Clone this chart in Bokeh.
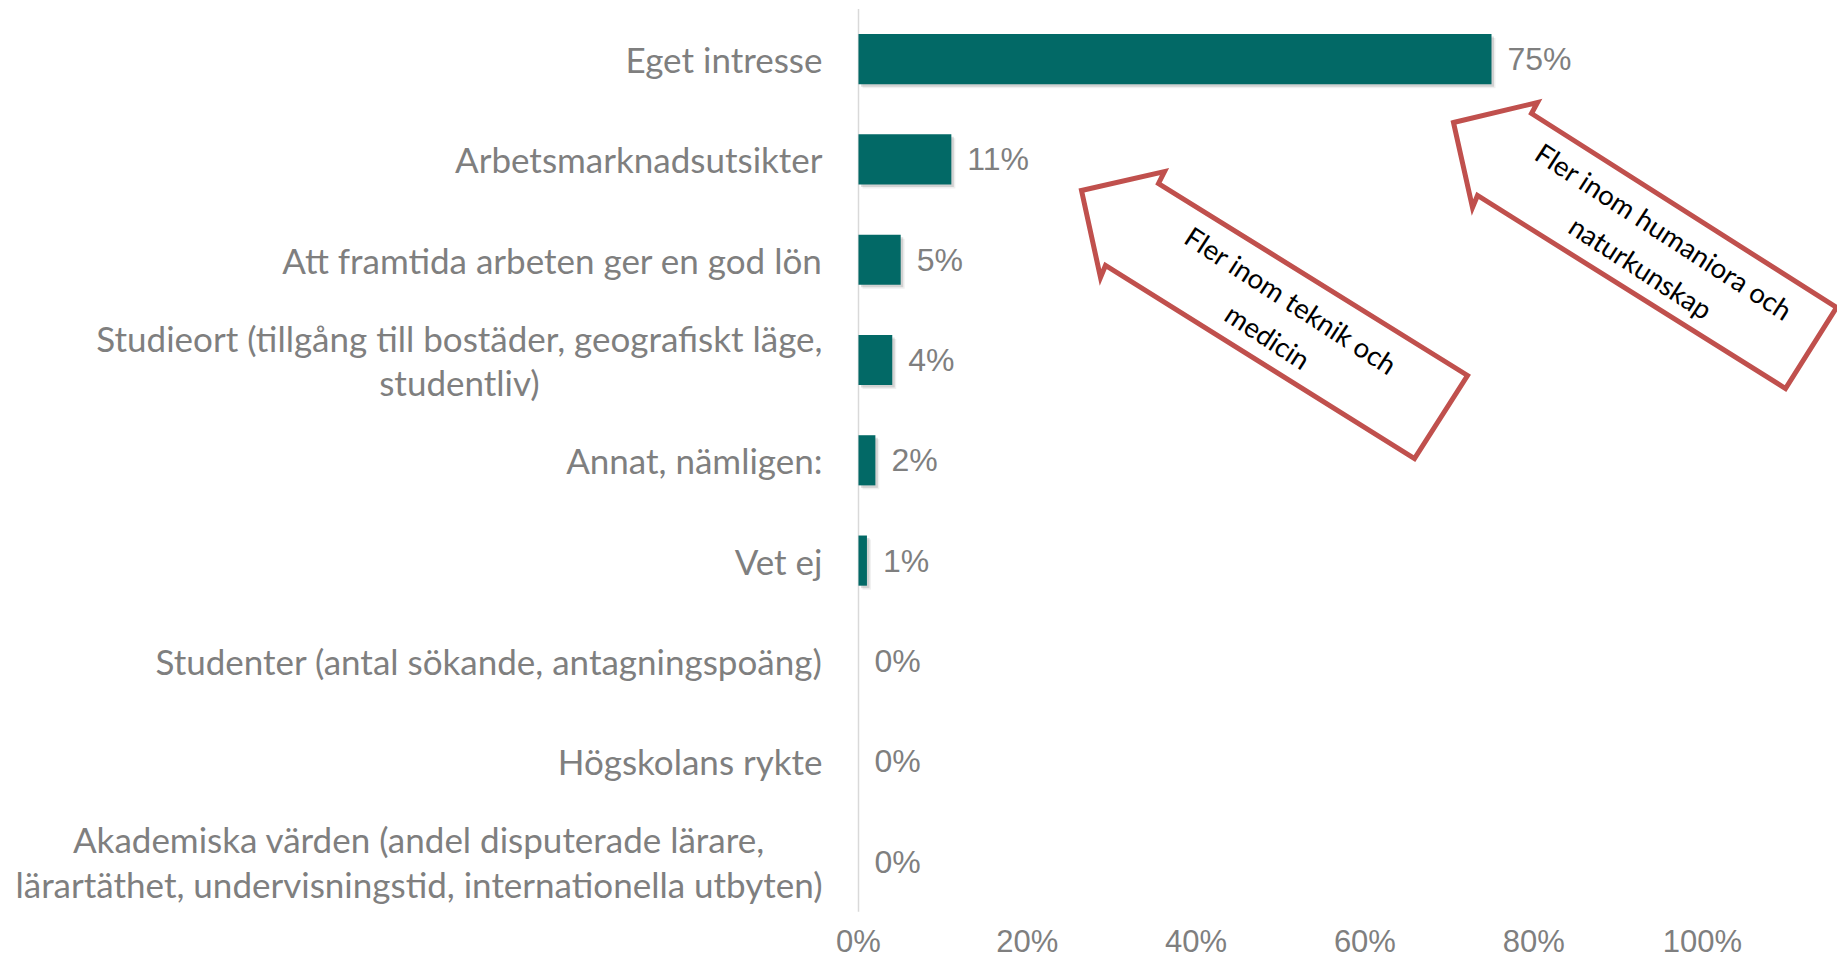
from bokeh.plotting import figure
from bokeh.models import Range1d
from bokeh.core.properties import value
from bokeh.embed import file_html
from bokeh.resources import INLINE

# ---------------- data ----------------
categories = [
    "Eget intresse",
    "Arbetsmarknadsutsikter",
    "Att framtida arbeten ger en god lön",
    "Studieort (tillgång till bostäder, geografiskt läge,\nstudentliv)",
    "Annat, nämligen:",
    "Vet ej",
    "Studenter (antal sökande, antagningspoäng)",
    "Högskolans rykte",
    "Akademiska värden (andel disputerade lärare,\nlärartäthet, undervisningstid, internationella utbyten)",
]
values = [75, 11, 5, 4, 2, 1, 0, 0, 0]
ticks = [0, 20, 40, 60, 80, 100]
tick_labels = ["0%", "20%", "40%", "60%", "80%", "100%"]
arrow_texts = ["Fler inom teknik och\nmedicin", "Fler inom humaniora och\nnaturkunskap"]

# ---------------- layout (canvas pixels) ----------------
W, H = 1837, 961
X0 = 858.0      # canvas x of 0 %
PXP = 8.44      # pixels per percent
Y0 = 58.6       # canvas y of first category centre
PXC = 100.3     # pixels per category
BAR_H = 0.5


def fx(px):
    return (px - X0) / PXP


def fy(py):
    return (py - Y0) / PXC


# annotation arrow outlines (canvas pixels)
arrow_left_px = [(1081, 190), (1164, 171), (1158, 183), (1467, 375),
                 (1414, 458), (1105, 265), (1100, 277)]
arrow_right_px = [(1453, 122), (1537, 102), (1531, 113), (1836, 307),
                  (1785, 388), (1477, 195), (1472, 207)]
arrow_text_px = [(1279, 318), (1652, 249)]

n = len(categories)
ypos = list(range(n))

p = figure(width=W, height=H,
           x_range=Range1d(fx(0), fx(W)),
           y_range=Range1d(fy(H), fy(0)),
           x_axis_type=None, y_axis_type=None,
           min_border=0, output_backend="svg", toolbar_location=None,
           outline_line_color=None)
p.background_fill_color = "white"
p.border_fill_color = "white"

GRAY = "#7F7F7F"

# vertical axis line
p.segment(x0=[0], x1=[0], y0=[-0.5], y1=[n - 0.5], line_color="#D9D9D9", line_width=1.5)

# soft bar shadows (only for non-empty bars)
sh_y = [y for y, v in zip(ypos, values) if v > 0]
sh_v = [v for v in values if v > 0]
for off, alpha in ((4, 0.06), (2.5, 0.12)):
    p.hbar(y=[y + off / PXC for y in sh_y], left=off / PXP,
           right=[v + off / PXP for v in sh_v], height=BAR_H,
           fill_color="black", fill_alpha=alpha, line_color=None)

# bars
p.hbar(y=ypos, left=0, right=values, height=BAR_H, fill_color="#026966", line_color=None)

# value labels
p.text(x=values, y=ypos, text=[f"{v}%" for v in values], x_offset=16,
       text_align="left", text_baseline="middle",
       text_font=value("Liberation Sans"), text_font_size="32px", text_color=GRAY)

# category labels
p.text(x=[0] * n, y=ypos, text=categories, x_offset=-36,
       anchor="center_right", text_align="center", text_baseline="middle",
       text_font=value("Lato"), text_font_size="35px", text_color=GRAY,
       text_line_height=1.05)

# x tick labels
tick_y = n - 0.5 + 30 / PXC
p.text(x=ticks, y=[tick_y] * len(ticks), text=tick_labels,
       text_align="center", text_baseline="middle",
       text_font=value("Liberation Sans"), text_font_size="31px", text_color=GRAY)

# annotation arrows
for pts in (arrow_left_px, arrow_right_px):
    p.patch([fx(a) for a, b in pts], [fy(b) for a, b in pts],
            fill_color="white", line_color="#C0504D", line_width=5, line_join="miter")

p.text(x=[fx(a) for a, b in arrow_text_px], y=[fy(b) for a, b in arrow_text_px],
       text=arrow_texts, angle=-33, angle_units="deg",
       text_align="center", text_baseline="middle",
       text_font=value("Lato"), text_font_size="27.5px", text_color="black",
       text_line_height=1.3)

open("out.html", "w").write(file_html(p, INLINE))
